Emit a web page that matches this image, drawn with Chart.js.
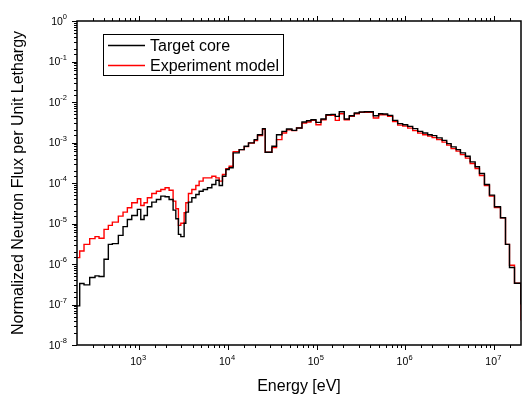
<!DOCTYPE html>
<html>
<head>
<meta charset="utf-8">
<script src="https://cdn.jsdelivr.net/npm/chart.js@4.4.0/dist/chart.umd.min.js"></script>
<style>
html,body{margin:0;padding:0;background:#fff}
#wrap{width:522px;height:396px}
</style>
</head>
<body>
<div id="wrap"><canvas id="chart" width="522" height="396"></canvas></div>
<script>
// group edges in eV (lower edge of each bin, last value closes the last bin)
const energy = [200, 214.5, 239.9, 278.1, 319.2, 354.1, 403.1, 450.7, 500.1, 584.3,
  659.9, 738.1, 827.5, 957, 1045, 1139, 1240, 1391, 1567, 1757,
  1964, 2179, 2417, 2593, 2774, 2952, 3217, 3362, 3596, 3929,
  4357, 4747, 5266, 5889, 6600, 7322, 7979, 8691, 9495, 10340,
  11470, 13410, 15270, 17070, 19790, 21570, 24550, 26340, 31340, 35320,
  40630, 45790, 52670, 59360, 68300, 76950, 86290, 98200, 111800, 127300,
  145000, 162100, 179800, 204700, 233100, 265400, 302100, 344100, 434600, 498800,
  553400, 630000, 717300, 816800, 930000, 1.059e6, 1.206e6, 1.373e6, 1.563e6, 1.780e6,
  1.995e6, 2.248e6, 2.586e6, 2.914e6, 3.268e6, 3.720e6, 4.159e6, 4.735e6, 5.351e6, 6.090e6,
  6.811e6, 7.753e6, 8.828e6, 1.005e7, 1.175e7, 1.338e7, 1.484e7, 1.690e7, 2.0e7, 2.2e7]

// flux per unit lethargy, one value per bin
const targetCore = [9.27e-8, 3.30e-7, 3.05e-7, 4.64e-7, 5.08e-7, 4.91e-7, 1.31e-6, 3.06e-6, 3.19e-6, 5.10e-6,
  8.35e-6, 1.26e-5, 1.58e-5, 2.23e-5, 1.26e-5, 1.58e-5, 2.60e-5, 3.37e-5, 3.93e-5, 4.73e-5,
  4.57e-5, 3.93e-5, 2.14e-5, 1.31e-5, 5.40e-6, 4.74e-6, 1.01e-5, 1.91e-5, 3.37e-5, 4.32e-5,
  5.21e-5, 6.28e-5, 6.92e-5, 7.62e-5, 9.18e-5, 1.17e-4, 8.68e-5, 1.47e-4, 2.15e-4, 2.37e-4,
  5.54e-4, 6.68e-4, 8.05e-4, 9.77e-4, 1.18e-3, 1.56e-3, 2.20e-3, 5.73e-4, 8.05e-4, 1.56e-3,
  1.88e-3, 2.16e-3, 1.99e-3, 2.28e-3, 3.21e-3, 3.45e-3, 3.66e-3, 3.14e-3, 3.80e-3, 4.85e-3,
  4.94e-3, 4.41e-3, 5.75e-3, 3.80e-3, 4.59e-3, 5.35e-3, 5.66e-3, 5.75e-3, 4.59e-3, 5.14e-3,
  5.05e-3, 4.67e-3, 3.52e-3, 2.92e-3, 2.75e-3, 2.50e-3, 2.20e-3, 1.88e-3, 1.72e-3, 1.56e-3,
  1.48e-3, 1.30e-3, 1.13e-3, 9.38e-4, 7.78e-4, 6.68e-4, 5.54e-4, 4.57e-4, 3.33e-4, 2.51e-4,
  1.71e-4, 9.18e-5, 5.01e-5, 2.60e-5, 1.39e-5, 3.06e-6, 8.18e-7, 3.36e-7, 1.0e-7]

const experimentModel = [1.44e-6, 2.10e-6, 3.06e-6, 4.23e-6, 4.74e-6, 4.31e-6, 7.17e-6, 8.99e-6, 1.08e-5, 1.52e-5,
  1.91e-5, 2.45e-5, 3.26e-5, 4.08e-5, 2.79e-5, 3.26e-5, 4.32e-5, 5.52e-5, 6.28e-5, 6.92e-5,
  7.62e-5, 6.65e-5, 3.56e-5, 2.32e-5, 8.99e-6, 1.01e-5, 1.85e-5, 3.26e-5, 5.52e-5, 6.92e-5,
  8.68e-5, 1.11e-4, 1.34e-4, 1.34e-4, 1.47e-4, 1.34e-4, 1.11e-4, 1.62e-4, 2.24e-4, 2.59e-4,
  5.96e-4, 6.68e-4, 7.91e-4, 9.66e-4, 1.11e-3, 1.48e-3, 2.13e-3, 5.73e-4, 7.48e-4, 1.18e-3,
  1.72e-3, 2.07e-3, 1.96e-3, 2.28e-3, 3.03e-3, 3.21e-3, 3.52e-3, 2.75e-3, 3.66e-3, 4.67e-3,
  4.67e-3, 3.52e-3, 5.14e-3, 3.66e-3, 4.41e-3, 5.14e-3, 5.53e-3, 5.53e-3, 4.03e-3, 4.85e-3,
  4.85e-3, 4.41e-3, 3.27e-3, 2.68e-3, 2.53e-3, 2.26e-3, 1.96e-3, 1.70e-3, 1.56e-3, 1.44e-3,
  1.32e-3, 1.18e-3, 1.02e-3, 8.61e-4, 7.07e-4, 6.14e-4, 5.03e-4, 4.12e-4, 3.02e-4, 2.28e-4,
  1.53e-4, 8.68e-5, 4.79e-5, 2.49e-5, 1.38e-5, 3.06e-6, 9.31e-7, 3.36e-7, 4.0e-8]

const xTicks = [1e3, 1e4, 1e5, 1e6, 1e7]
const yTicks = [1e-8, 1e-7, 1e-6, 1e-5, 1e-4, 1e-3, 1e-2, 1e-1, 1e0]

const FONT = '"Liberation Sans", Arial, sans-serif'

// step points: each bin starts at its lower edge, last point closes the last bin
function steps(vals){
  const pts = vals.map((v, i) => ({x: energy[i], y: v}))
  pts.push({x: energy[vals.length], y: vals[vals.length - 1]})
  return pts
}

function isDecade(v){
  const e = Math.log10(v)
  return Math.abs(e - Math.round(e)) < 1e-6
}
function expText(v){
  return String(Math.round(Math.log10(v)))
}

// box frame + tick marks (major longer than minor), outward
const axisBox = {
  id: 'axisBox',
  afterDraw(chart){
    const {ctx, chartArea: a, scales: {x, y}} = chart
    ctx.save()
    ctx.strokeStyle = '#000'
    ctx.lineWidth = 1
    ctx.beginPath()
    x.ticks.forEach(t => {
      const px = Math.round(x.getPixelForValue(t.value)) + 0.5
      if(px < a.left + 1 || px > a.right - 1) return
      const len = isDecade(t.value) ? 5 : 3
      ctx.moveTo(px, a.bottom); ctx.lineTo(px, a.bottom + len)
      ctx.moveTo(px, a.top); ctx.lineTo(px, a.top - len)
    })
    y.ticks.forEach(t => {
      const py = Math.round(y.getPixelForValue(t.value)) + 0.5
      const len = isDecade(t.value) ? 5 : 3
      ctx.moveTo(a.left, py); ctx.lineTo(a.left - len, py)
    })
    ctx.stroke()
    ctx.lineWidth = 1.5
    ctx.strokeRect(a.left, a.top, a.right - a.left, a.bottom - a.top)
    ctx.restore()
  }
}

// 10^n tick labels with a raised exponent
const powerLabels = {
  id: 'powerLabels',
  afterDraw(chart){
    const {ctx, chartArea: a, scales: {x, y}} = chart
    const big = '10.5px ' + FONT
    const small = '7.5px ' + FONT
    ctx.save()
    ctx.fillStyle = '#000'
    ctx.textBaseline = 'alphabetic'
    ctx.textAlign = 'left'
    ctx.font = big
    const wb = ctx.measureText('10').width
    yTicks.forEach(v => {
      const py = y.getPixelForValue(v)
      const e = expText(v)
      ctx.font = small
      const we = ctx.measureText(e).width
      const right = a.left - 10
      ctx.font = big
      ctx.fillText('10', right - we - wb, py + 3.8)
      ctx.font = small
      ctx.fillText(e, right - we, py - 1.8)
    })
    xTicks.forEach(v => {
      const px = x.getPixelForValue(v)
      const e = expText(v)
      ctx.font = small
      const we = ctx.measureText(e).width
      const start = px - (wb + we) / 2 - 1
      ctx.font = big
      ctx.fillText('10', start, a.bottom + 19.5)
      ctx.font = small
      ctx.fillText(e, start + wb + 0.3, a.bottom + 15)
    })
    ctx.restore()
  }
}

// legend with a frame inside the plot
const boxLegend = {
  id: 'boxLegend',
  afterDraw(chart){
    const ctx = chart.ctx
    ctx.save()
    ctx.fillStyle = '#fff'
    ctx.fillRect(103.5, 34.5, 180, 41)
    ctx.strokeStyle = '#000'
    ctx.lineWidth = 1
    ctx.strokeRect(103.5, 34.5, 180, 41)
    ctx.font = '16px ' + FONT
    ctx.textBaseline = 'alphabetic'
    chart.data.datasets.forEach((ds, i) => {
      const cy = 45.5 + i * 20
      ctx.strokeStyle = ds.borderColor
      ctx.lineWidth = 1.4
      ctx.beginPath()
      ctx.moveTo(108, cy); ctx.lineTo(145, cy)
      ctx.stroke()
      ctx.fillStyle = '#000'
      ctx.fillText(ds.label, 150, cy + 5.5)
    })
    ctx.restore()
  }
}

const ctx = document.getElementById('chart')

const chart = new Chart(ctx, {
  type: 'line',
  data: {
    datasets: [
      {
        label: 'Target core',
        data: steps(targetCore),
        borderColor: '#000000',
        borderWidth: 1.4,
        stepped: 'before',
        pointRadius: 0,
        fill: false
      },
      {
        label: 'Experiment model',
        data: steps(experimentModel),
        borderColor: '#ff0000',
        borderWidth: 1.4,
        stepped: 'before',
        pointRadius: 0,
        fill: false
      }
    ]
  },
  options: {
    responsive: false,
    animation: false,
    devicePixelRatio: 1,
    layout: {padding: {top: 21, right: 1, left: 0, bottom: 0}},
    plugins: {
      legend: {display: false},
      tooltip: {enabled: false}
    },
    scales: {
      x: {
        type: 'logarithmic',
        min: 200,
        max: 2e7,
        afterFit: s => { s.height = 51; s.paddingLeft = 0; s.paddingRight = 0 },
        grid: {display: false, drawTicks: false},
        border: {display: false},
        ticks: {display: false},
        title: {
          display: true,
          text: 'Energy [eV]',
          color: '#000',
          font: {family: FONT, size: 16},
          padding: {top: 0, bottom: 0}
        }
      },
      y: {
        type: 'logarithmic',
        min: 1e-8,
        max: 1,
        afterFit: s => { s.width = 77; s.paddingTop = 0; s.paddingBottom = 0 },
        grid: {display: false, drawTicks: false},
        border: {display: false},
        ticks: {display: false},
        title: {
          display: true,
          text: 'Normalized Neutron Flux per Unit Lethargy',
          color: '#000',
          font: {family: FONT, size: 16},
          padding: {top: 9, bottom: 0}
        }
      }
    }
  },
  plugins: [axisBox, powerLabels, boxLegend]
})
</script>
</body>
</html>
